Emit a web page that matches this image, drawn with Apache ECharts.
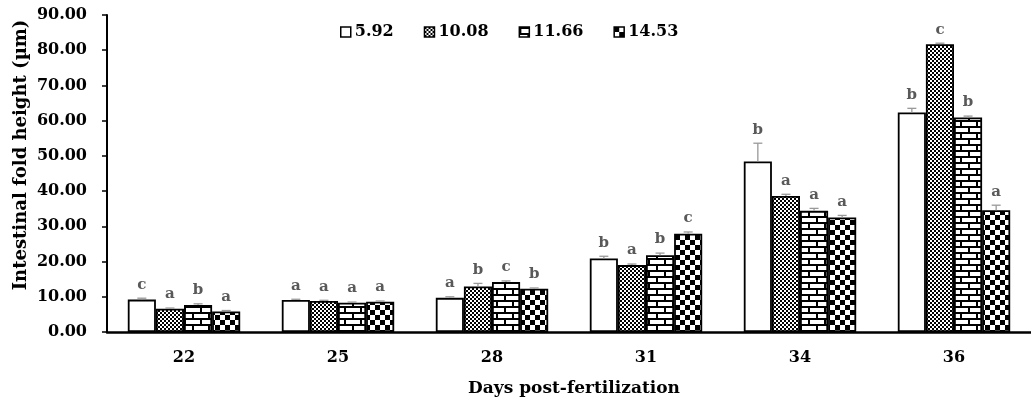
<!DOCTYPE html>
<html><head><meta charset="utf-8">
<script src="https://cdn.jsdelivr.net/npm/echarts@6/dist/echarts.min.js"></script>
<style>html,body{margin:0;padding:0;background:#fff}#c{width:1031px;height:399px}</style>
</head><body><div id="c"></div>
<script>
var categories = ['22','25','28','31','34','36'];
var seriesNames = ['5.92','10.08','11.66','14.53'];
var s592  = [9.2, 9.1, 9.7, 20.9, 48.4, 62.3];
var s1008 = [6.6, 8.8, 12.9, 19.0, 38.6, 81.7];
var s1166 = [7.7, 8.3, 14.2, 21.8, 34.4, 60.9];
var s1453 = [5.8, 8.6, 12.3, 27.9, 32.5, 34.6];
var e592  = [0.4, 0.2, 0.3, 0.6, 5.2, 1.2];
var e1008 = [0.2, 0.2, 0.9, 0.3, 0.5, 0.3];
var e1166 = [0.3, 0.2, 0.3, 0.6, 0.7, 0.4];
var e1453 = [0.3, 0.2, 0.2, 0.5, 0.6, 1.4];
var l592  = ['c','a','a','b','b','b'];
var l1008 = ['a','a','b','a','a','c'];
var l1166 = ['b','a','c','b','a','b'];
var l1453 = ['a','a','b','c','a','a'];
var yTicks = [0,10,20,30,40,50,60,70,80,90];

var values = [s592, s1008, s1166, s1453];
var errors = [e592, e1008, e1166, e1453];
var letters = [l592, l1008, l1166, l1453];
var FONT = 'DejaVu Serif';
var CAT_GAP = 0.27;

function tile(w, h, draw) {
  var c = document.createElement('canvas');
  c.width = w; c.height = h;
  var g = c.getContext('2d');
  g.fillStyle = '#fff'; g.fillRect(0,0,w,h);
  g.fillStyle = '#000';
  draw(g);
  return {image: c, repeat: 'repeat'};
}
var patWhite = '#ffffff';
var patFine = tile(4, 4, function(g){ g.fillRect(0,0,2,2); g.fillRect(2,2,2,2); });
var patBrick = tile(16, 12, function(g){
  g.fillRect(0,0,16,2); g.fillRect(0,6,16,2);
  g.fillRect(0,0,2,6); g.fillRect(8,6,2,6);
});
var patChecker = tile(10, 10, function(g){ g.fillRect(0,0,5,5); g.fillRect(5,5,5,5); });
var fills = [patWhite, patFine, patBrick, patChecker];

var series = [];
for (var k = 0; k < 4; k++) {
  series.push({
    name: seriesNames[k], type: 'bar', data: values[k],
    barGap: '0%', barCategoryGap: (CAT_GAP*100) + '%',
    itemStyle: {color: fills[k], borderColor: '#000', borderWidth: 1.8},
    emphasis: {disabled: true}, animation: false
  });
}
var errData = [];
for (var k2 = 0; k2 < 4; k2++) {
  for (var i = 0; i < categories.length; i++) {
    errData.push([i, values[k2][i], errors[k2][i], k2]);
  }
}
series.push({
  type: 'custom', data: errData, z: 10, animation: false, silent: true,
  renderItem: function(params, api) {
    var ci = api.value(0), v = api.value(1), e = api.value(2), k = api.value(3);
    var band = api.size([1, 0])[0];
    var total = band * (1 - CAT_GAP);
    var bw = total / 4;
    var cx = api.coord([ci, 0])[0] - total / 2 + bw * (k + 0.5);
    var yTop = api.coord([ci, v])[1];
    var yErr = api.coord([ci, v + e])[1];
    var cap = 4.5;
    return {type: 'group', children: [
      {type: 'line', shape: {x1: cx, y1: yTop, x2: cx, y2: yErr}, style: {stroke: '#999999', lineWidth: 1.3}},
      {type: 'line', shape: {x1: cx - cap, y1: yErr, x2: cx + cap, y2: yErr}, style: {stroke: '#999999', lineWidth: 1.3}},
      {type: 'text', x: cx, y: yErr - 6, style: {text: letters[k][ci], fill: '#595959', font: 'bold 15px "' + FONT + '"', textAlign: 'center', textVerticalAlign: 'bottom'}}
    ]};
  }
});

var chart = echarts.init(document.getElementById('c'), null, {renderer: 'canvas'});
chart.setOption({
  backgroundColor: '#fff',
  animation: false,
  grid: {left: 107, top: 15, width: 935, height: 317},
  legend: {
    data: seriesNames, top: 19, left: 335, itemGap: 30, itemWidth: 10, itemHeight: 10,
    icon: 'rect',
    itemStyle: {borderColor: '#000', borderWidth: 1.5},
    textStyle: {fontFamily: FONT, fontWeight: 'bold', fontSize: 16, color: '#000', padding: [0,0,0,-1]}
  },
  xAxis: {
    type: 'category', data: categories,
    axisLine: {lineStyle: {color: '#000', width: 2.5}},
    axisTick: {show: false},
    axisLabel: {fontFamily: FONT, fontWeight: 'bold', fontSize: 16, color: '#000', margin: 18}
  },
  yAxis: {
    type: 'value', min: 0, max: 90, interval: 10,
    axisLine: {show: true, lineStyle: {color: '#000', width: 2}},
    axisTick: {show: true, length: 5, lineStyle: {color: '#000', width: 1.5}},
    splitLine: {show: false},
    axisLabel: {fontFamily: FONT, fontWeight: 'bold', fontSize: 16, color: '#000', margin: 20,
      formatter: function(v){ return v.toFixed(2); }}
  },
  graphic: [
    {type: 'text', x: 574, y: 389, style: {text: 'Days post-fertilization', font: 'bold 17px "' + FONT + '"', fill: '#000', textAlign: 'center', textVerticalAlign: 'middle'}},
    {type: 'text', x: 21, y: 155, rotation: Math.PI/2, style: {text: 'Intestinal fold height (µm)', font: 'bold 18px "' + FONT + '"', fill: '#000', textAlign: 'center', textVerticalAlign: 'middle'}}
  ],
  series: series
});
</script></body></html>
